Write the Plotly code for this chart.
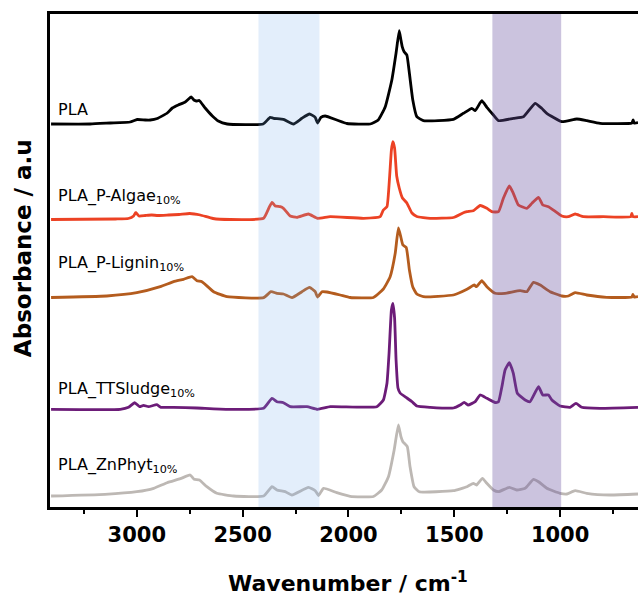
import plotly.graph_objects as go

# ---------------- data ----------------
# wavenumbers (cm^-1) and absorbance above each curve's own baseline (a.u.)
pla_wn = [3405, 3220, 3125, 3031, 2998, 2960, 2936, 2903, 2856, 2832, 2804, 2771, 2743, 2730, 2719, 2705,
          2677, 2643, 2615, 2573, 2403, 2370, 2354, 2307, 2260, 2220, 2184, 2157, 2146, 2130, 2110, 2055,
          2007, 1897, 1859, 1826, 1795, 1775, 1760, 1752, 1746, 1737, 1724, 1712, 1696, 1677, 1646, 1504,
          1457, 1417, 1401, 1370, 1346, 1315, 1291, 1221, 1173, 1118, 1087, 1063, 992, 921, 874, 811,
          661, 655, 650, 632]
pla_ab = [0.0, 0.0, 0.01, 0.02, 0.045, 0.04, 0.04, 0.055, 0.11, 0.16, 0.19, 0.22, 0.27, 0.24, 0.23, 0.235,
          0.16, 0.08, 0.03, 0.0, 0.0, 0.067, 0.057, 0.047, 0.0, 0.057, 0.10, 0.067, 0.01, 0.067, 0.08, 0.04,
          0.005, 0.0, 0.04, 0.173, 0.44, 0.71, 0.933, 0.84, 0.773, 0.723, 0.69, 0.507, 0.24, 0.073, 0.033, 0.047,
          0.107, 0.157, 0.133, 0.233, 0.167, 0.09, 0.033, 0.057, 0.073, 0.207, 0.157, 0.107, 0.023, 0.05, 0.033, 0.007,
          0.01, 0.04, 0.01, 0.013]

algae_wn = [3405, 3100, 3040, 3015, 3005, 2990, 2960, 2930, 2900, 2850, 2800, 2750, 2700, 2640, 2560, 2401,
            2373, 2361, 2346, 2322, 2307, 2275, 2243, 2189, 2146, 2086, 1929, 1850, 1835, 1818, 1805, 1797,
            1790, 1782, 1772, 1760, 1745, 1724, 1700, 1677, 1614, 1504, 1457, 1440, 1410, 1378, 1346, 1323,
            1291, 1268, 1240, 1221, 1197, 1157, 1133, 1102, 1082, 1055, 992, 961, 929, 890, 796, 666,
            661, 656, 632]
algae_ab = [-0.005, 0.0, 0.005, 0.03, 0.065, 0.03, 0.035, 0.04, 0.035, 0.04, 0.045, 0.055, 0.04, 0.005, -0.005, 0.007,
            0.123, 0.167, 0.13, 0.123, 0.107, 0.03, 0.017, 0.05, 0.007, 0.023, 0.007, 0.023, 0.09, 0.123, 0.44, 0.69,
            0.773, 0.71, 0.43, 0.31, 0.21, 0.16, 0.06, 0.025, 0.007, 0.015, 0.063, 0.073, 0.083, 0.135, 0.107, 0.073,
            0.073, 0.207, 0.33, 0.257, 0.14, 0.107, 0.157, 0.217, 0.14, 0.123, 0.03, 0.023, 0.05, 0.023, 0.023, 0.023,
            0.057, 0.023, 0.023]

lignin_wn = [3405, 3142, 3000, 2889, 2826, 2779, 2739, 2716, 2692, 2637, 2574, 2401, 2366, 2338, 2307, 2267,
             2220, 2184, 2157, 2146, 2125, 2102, 2039, 1992, 1882, 1835, 1803, 1779, 1764, 1752, 1743, 1727,
             1712, 1696, 1677, 1646, 1504, 1440, 1406, 1395, 1370, 1346, 1307, 1260, 1189, 1157, 1126, 1094,
             1047, 992, 961, 929, 874, 780, 661, 656, 650, 632]
lignin_ab = [0.0, 0.015, 0.048, 0.108, 0.158, 0.182, 0.208, 0.168, 0.158, 0.058, 0.008, -0.002, 0.058, 0.042, 0.035, -0.002,
             0.058, 0.102, 0.058, 0.005, 0.058, 0.055, 0.025, 0.0, 0.0, 0.085, 0.208, 0.442, 0.695, 0.60, 0.525, 0.50,
             0.275, 0.105, 0.035, 0.008, 0.025, 0.082, 0.125, 0.108, 0.168, 0.108, 0.042, 0.042, 0.068, 0.058, 0.152, 0.125,
             0.058, 0.015, 0.015, 0.048, 0.025, 0.002, 0.005, 0.03, 0.005, 0.008]

sludge_wn = [3405, 3078, 3039, 3010, 2987, 2968, 2944, 2905, 2886, 2826, 2716, 2574, 2401, 2361, 2338, 2307,
             2275, 2196, 2146, 2086, 1866, 1835, 1818, 1808, 1797, 1790, 1782, 1775, 1766, 1756, 1724, 1700,
             1677, 1614, 1504, 1472, 1453, 1435, 1401, 1378, 1346, 1307, 1291, 1275, 1260, 1240, 1221, 1202,
             1165, 1142, 1102, 1082, 1055, 1039, 1000, 953, 925, 898, 811, 632]
sludge_ab = [-0.008, -0.008, 0.012, 0.058, 0.018, 0.032, 0.018, 0.038, 0.012, 0.012, 0.005, -0.008, 0.002, 0.102, 0.068, 0.058,
             0.018, 0.018, -0.008, 0.018, 0.018, 0.085, 0.252, 0.555, 0.985, 1.05, 0.905, 0.485, 0.205, 0.155, 0.105, 0.068,
             0.025, 0.012, 0.005, 0.035, 0.062, 0.035, 0.068, 0.135, 0.102, 0.06, 0.068, 0.218, 0.385, 0.458, 0.352, 0.152,
             0.085, 0.068, 0.218, 0.135, 0.135, 0.085, 0.025, 0.012, 0.052, 0.012, 0.002, 0.012]

znphyt_wn = [3405, 3150, 3000, 2920, 2857, 2794, 2748, 2729, 2704, 2669, 2622, 2543, 2401, 2361, 2338, 2299,
             2267, 2189, 2157, 2141, 2118, 2055, 1992, 1882, 1843, 1811, 1784, 1764, 1752, 1743, 1722, 1709,
             1690, 1665, 1504, 1440, 1410, 1395, 1367, 1346, 1315, 1291, 1240, 1205, 1165, 1126, 1102, 1063,
             1000, 968, 929, 874, 764, 632]
znphyt_ab = [0.0, 0.017, 0.043, 0.077, 0.133, 0.173, 0.21, 0.167, 0.16, 0.093, 0.027, 0.0, 0.0, 0.093, 0.06, 0.043,
             0.01, 0.087, 0.053, 0.005, 0.077, 0.033, -0.003, -0.005, 0.06, 0.193, 0.46, 0.71, 0.593, 0.543, 0.493, 0.293,
             0.093, 0.043, 0.053, 0.093, 0.127, 0.11, 0.177, 0.127, 0.06, 0.043, 0.087, 0.06, 0.077, 0.167, 0.143, 0.077,
             0.027, 0.02, 0.053, 0.027, 0.01, 0.02]

series_names = ["PLA", "PLA_P-Algae<sub>10%</sub>", "PLA_P-Lignin<sub>10%</sub>",
                "PLA_TTSludge<sub>10%</sub>", "PLA_ZnPhyt<sub>10%</sub>"]
series_wn = [pla_wn, algae_wn, lignin_wn, sludge_wn, znphyt_wn]
series_ab = [pla_ab, algae_ab, lignin_ab, sludge_ab, znphyt_ab]
offsets = [3.83, 2.88, 2.095, 0.985, 0.11]          # vertical stacking offsets
label_y = [3.98, 3.105, 2.435, 1.175, 0.415]        # label heights
colors = ["#000000", "#ec4224", "#b45c1e", "#6c1c78", "#bdb8b4"]

band_blue = [2425, 2137]
band_purple = [1320, 995]
x_range = [3410, 632]
x_ticks = [3000, 2500, 2000, 1500, 1000]

# ---------------- figure ----------------
fig = go.Figure()
for name, wn, ab, off, col in zip(series_names, series_wn, series_ab, offsets, colors):
    fig.add_trace(go.Scatter(x=wn, y=[a + off for a in ab], mode="lines",
                             line=dict(color=col, width=2.8, shape="spline", smoothing=0.4),
                             name=name, showlegend=False, hoverinfo="skip"))

fig.add_shape(type="rect", xref="x", yref="paper", x0=band_blue[0], x1=band_blue[1], y0=0, y1=1,
              fillcolor="rgba(115,170,235,0.2)", line=dict(width=0), layer="above")
fig.add_shape(type="rect", xref="x", yref="paper", x0=band_purple[0], x1=band_purple[1], y0=0, y1=1,
              fillcolor="rgba(106,84,161,0.35)", line=dict(width=0), layer="above")

for name, ly in zip(series_names, label_y):
    fig.add_annotation(x=3382, y=ly, xref="x", yref="y", text=name, showarrow=False,
                       xanchor="left", yanchor="middle",
                       font=dict(family="DejaVu Sans", size=16, color="#000000"))

fig.add_annotation(x=0.507, y=-0.152, xref="paper", yref="paper",
                   text="<b>Wavenumber / cm<sup>-1</sup></b>", showarrow=False,
                   xanchor="center", yanchor="middle",
                   font=dict(family="DejaVu Sans", size=22, color="#000000"))
fig.add_annotation(x=-0.046, y=0.525, xref="paper", yref="paper",
                   text="<b>Absorbance / a.u</b>", showarrow=False, textangle=-90,
                   xanchor="center", yanchor="middle",
                   font=dict(family="DejaVu Sans", size=23, color="#000000"))

fig.update_layout(
    width=638, height=596,
    margin=dict(l=50, r=0, t=14, b=89),
    paper_bgcolor="white", plot_bgcolor="white",
    xaxis=dict(range=x_range, tickvals=x_ticks, ticktext=[str(t) for t in x_ticks],
               showgrid=False, zeroline=False, showline=True, linecolor="black", linewidth=2.6,
               mirror=True, ticks="outside", ticklen=7, tickwidth=2, tickcolor="black",
               tickfont=dict(family="DejaVu Sans", size=21, color="black", weight="bold"),
               minor=dict(dtick=250, tick0=0, ticks="outside", ticklen=4, tickwidth=2, tickcolor="black")),
    yaxis=dict(range=[0, 4.93], showgrid=False, zeroline=False, showline=True, linecolor="black",
               linewidth=2.6, showticklabels=False, ticks=""),
)

fig.write_html("out.html")
